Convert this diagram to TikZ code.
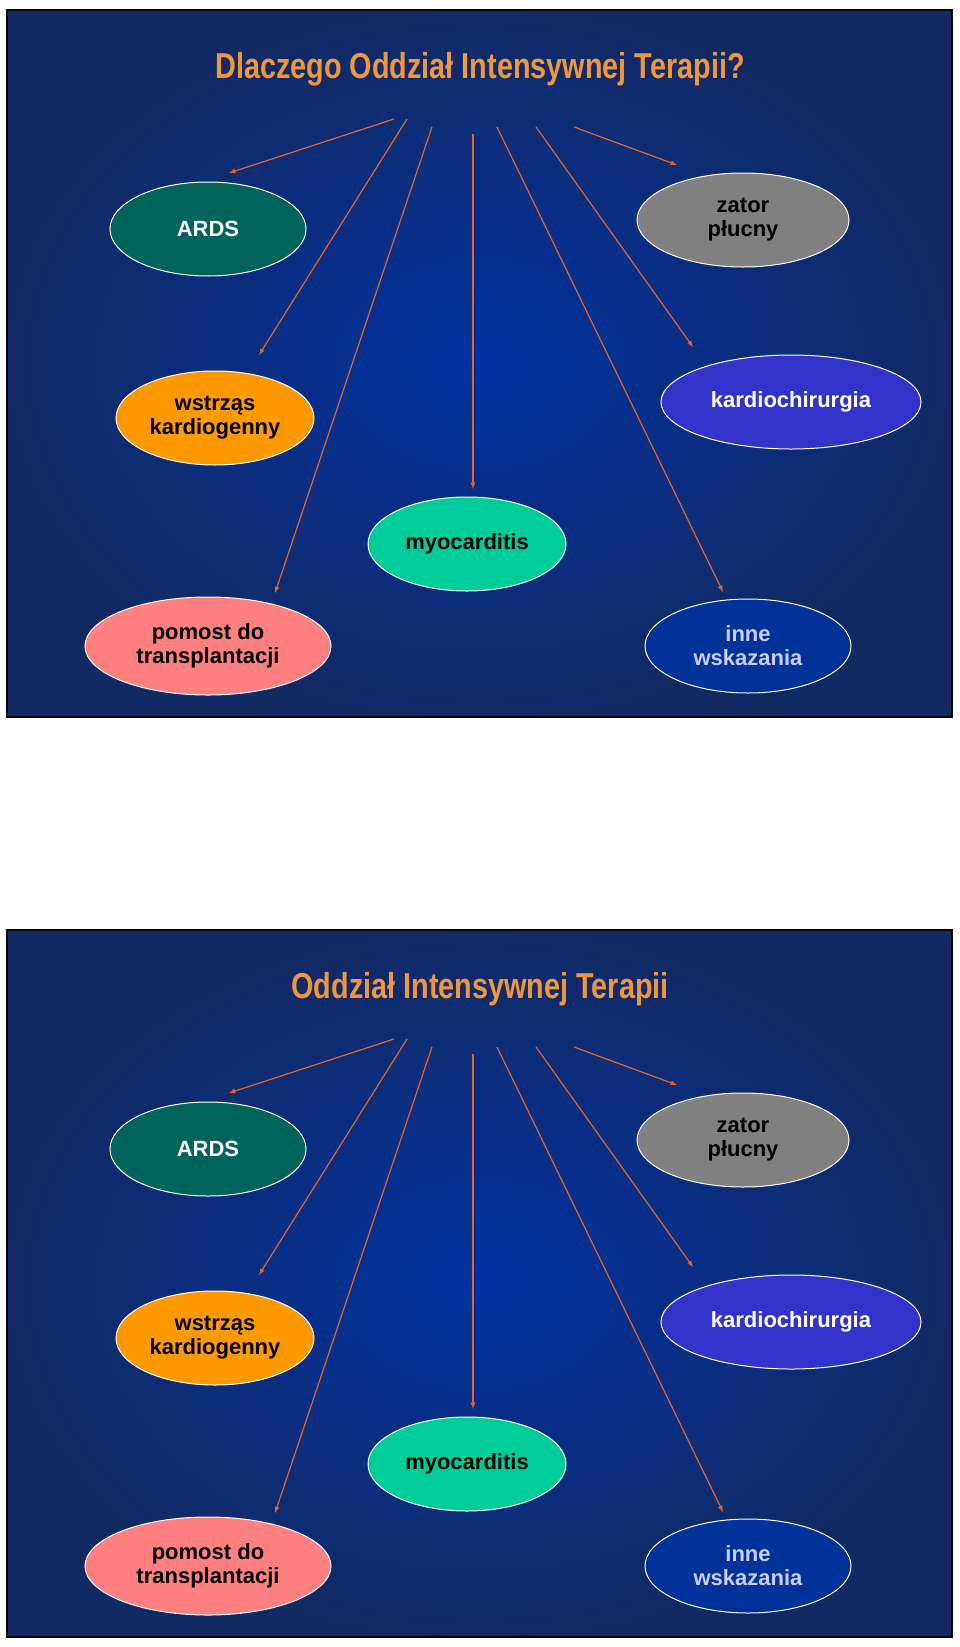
\documentclass[tikz,border=0pt]{standalone}
\usepackage{fontspec}
\setmainfont{Liberation Sans}
\newfontfamily\titlefont[FakeStretch=0.8]{Liberation Sans}
\usetikzlibrary{shapes.geometric}
\definecolor{navy}{RGB}{18,42,100}
\definecolor{midblue}{RGB}{0,50,160}
\definecolor{ttl}{RGB}{240,150,60}
\definecolor{arr}{RGB}{230,100,40}
\definecolor{cards}{RGB}{0,100,90}
\definecolor{czator}{RGB}{128,128,128}
\definecolor{cwstrz}{RGB}{255,153,0}
\definecolor{ckardio}{RGB}{51,51,204}
\definecolor{cmyo}{RGB}{0,204,153}
\definecolor{cpomost}{RGB}{255,128,128}
\definecolor{cinne}{RGB}{0,51,153}
\definecolor{tinne}{RGB}{204,204,255}
\tikzset{
  oval/.style={ellipse,draw=white,line width=1pt,inner sep=0pt,align=center,
    font=\bfseries\fontsize{22}{24}\selectfont},
  link/.style={draw=arr,line width=1.2pt,-latex},
}
\newcommand{\drawpanel}[3]{
  \begin{scope}[yshift=-#1pt]
  \shade[inner color=midblue,outer color=navy] (7,10) rectangle (952,717);
  \draw[black,line width=2pt] (7,10) rectangle (952,717);
  \node[text=ttl,font=\titlefont\bfseries\fontsize{36}{40}\selectfont] (title#2) at (480,69) {#3};
  \node[oval,fill=cards,text=white,minimum width=196pt,minimum height=94pt] (ards#2) at (208,229) {ARDS};
  \node[oval,fill=czator,text=black,minimum width=212pt,minimum height=94pt] (zator#2) at (743,220) {zator\\płucny};
  \node[oval,fill=cwstrz,text=black,minimum width=198pt,minimum height=94pt] (wstrzas#2) at (215,418) {wstrząs\\kardiogenny};
  \node[oval,fill=ckardio,text=white,minimum width=260pt,minimum height=94pt] (kardio#2) at (791,402) {kardiochirurgia};
  \node[oval,fill=cmyo,text=black,minimum width=198pt,minimum height=94pt] (myo#2) at (467,544) {myocarditis};
  \node[oval,fill=cpomost,text=black,minimum width=246pt,minimum height=98pt] (pomost#2) at (208,646) {pomost do\\transplantacji};
  \node[oval,fill=cinne,text=tinne,minimum width=206pt,minimum height=94pt] (inne#2) at (748,646) {inne\\wskazania};
  \coordinate (s1#2) at (394,119);
  \coordinate (s2#2) at (407,119);
  \coordinate (s3#2) at (432,127);
  \coordinate (s4#2) at (473,134);
  \coordinate (s5#2) at (497,127);
  \coordinate (s6#2) at (536,127);
  \coordinate (s7#2) at (574,127);
  \coordinate (e1#2) at (229,173);
  \coordinate (e2#2) at (259,355);
  \coordinate (e3#2) at (275,593);
  \coordinate (e4#2) at (473,489);
  \coordinate (e5#2) at (723,592);
  \coordinate (e6#2) at (693,347);
  \coordinate (e7#2) at (677,165);
  \foreach \k in {1,...,7}{
    \draw[link] (s\k#2) -- (e\k#2);
  }
  \end{scope}
}

\begin{document}
\begin{tikzpicture}[x=1pt,y=-1pt]
  \useasboundingbox[fill=white] (0,0) rectangle (960,1647);
  \drawpanel{0}{a}{Dlaczego Oddział Intensywnej Terapii?}
  \drawpanel{920}{b}{Oddział Intensywnej Terapii}
\end{tikzpicture}
\end{document}
